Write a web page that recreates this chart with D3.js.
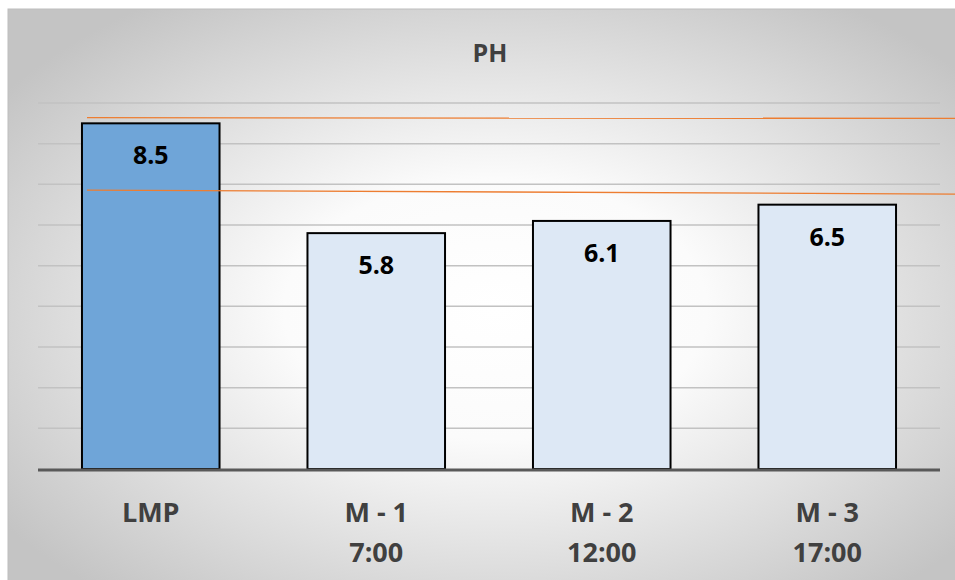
<!DOCTYPE html>
<html><head><meta charset="utf-8">
<script src="https://cdn.jsdelivr.net/npm/d3@7"></script>
<style>body{margin:0;background:#fff}svg{display:block}</style>
</head><body>
<script>
const categories = [["LMP"], ["M - 1", "7:00"], ["M - 2", "12:00"], ["M - 3", "17:00"]];
const values = [8.5, 5.8, 6.1, 6.5];
const yTicks = [0,1,2,3,4,5,6,7,8,9];
// reference (orange) lines: [startValue, endValue]
const refLines = [[8.64, 8.62], [6.86, 6.76]];
const title = "PH";

(function(){
const W = 955, H = 580;
const svg = d3.select("body").append("svg").attr("width", W).attr("height", H);
const defs = svg.append("defs");
const rg = defs.append("radialGradient").attr("id","bg").attr("cx","50%").attr("cy","50%").attr("r","62%")
  .attr("gradientUnits","objectBoundingBox");
rg.append("stop").attr("offset","0%").attr("stop-color","#ffffff");
rg.append("stop").attr("offset","35%").attr("stop-color","#fbfbfb");
rg.append("stop").attr("offset","100%").attr("stop-color","#c4c4c4");
svg.append("rect").attr("x",8).attr("y",9).attr("width",W+20).attr("height",H+20).attr("fill","url(#bg)")
  .attr("stroke","#bdbdbd").attr("stroke-width",1);

const mLeft = 38, mRight = 940, mTop = 103, mBottom = 469;
const x = d3.scaleBand().domain(categories.map(d=>d.join(" "))).range([mLeft,mRight]).paddingInner(0.39).paddingOuter(0.195);
const y = d3.scaleLinear().domain([0,9]).range([mBottom, mTop]);

// gridlines
svg.append("g").selectAll("line").data(yTicks.slice(1)).join("line")
  .attr("x1",mLeft).attr("x2",mRight).attr("y1",d=>y(d)).attr("y2",d=>y(d))
  .attr("stroke","#c2c2c2").attr("stroke-width",1.5);

// bars
svg.append("g").selectAll("rect").data(values).join("rect")
  .attr("x",(d,i)=>x(categories[i].join(" ")))
  .attr("y",d=>y(d)).attr("width",x.bandwidth()).attr("height",d=>y(0)-y(d))
  .attr("fill",(d,i)=>i===0?"#6fa5d8":"#dde8f5")
  .attr("stroke","#000").attr("stroke-width",2);

// baseline
svg.append("line").attr("x1",mLeft).attr("x2",mRight).attr("y1",y(0)+1).attr("y2",y(0)+1)
  .attr("stroke","#595959").attr("stroke-width",3);

// orange reference lines
const xr = d3.scaleLinear().domain([0,1]).range([87, 960]);
svg.append("g").selectAll("line").data(refLines).join("line")
  .attr("x1",xr(0)).attr("x2",xr(1)).attr("y1",d=>y(d[0])).attr("y2",d=>y(d[1]))
  .attr("stroke","#ed7d31").attr("stroke-width",1.3);

// value labels
svg.append("g").selectAll("text").data(values).join("text")
  .attr("x",(d,i)=>x(categories[i].join(" "))+x.bandwidth()/2)
  .attr("y",d=>y(d)+41)
  .attr("text-anchor","middle")
  .attr("font-family","'Open Sans', 'Liberation Sans', sans-serif")
  .attr("font-weight","bold").attr("font-size",25).attr("fill","#000")
  .text(d=>d.toFixed(1));

// category labels
const cg = svg.append("g");
categories.forEach((c,i)=>{
  c.forEach((line,j)=>{
    cg.append("text")
      .attr("x",x(c.join(" "))+x.bandwidth()/2)
      .attr("y",522+j*40)
      .attr("text-anchor","middle")
      .attr("font-family","'Open Sans', 'Liberation Sans', sans-serif")
      .attr("font-weight","bold").attr("font-size",27).attr("fill","#404040")
      .text(line);
  });
});

// title
svg.append("text").attr("x",490).attr("y",62).attr("text-anchor","middle")
  .attr("font-family","'Open Sans', 'Liberation Sans', sans-serif")
  .attr("font-weight","bold").attr("font-size",25).attr("fill","#404040").text(title);
})();
</script>
</body></html>
